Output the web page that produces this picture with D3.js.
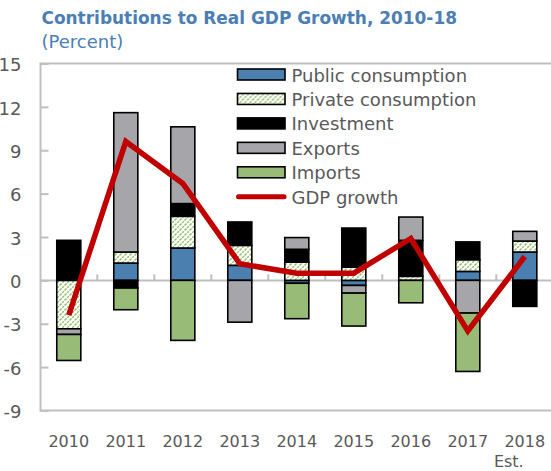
<!DOCTYPE html>
<html>
<head>
<meta charset="utf-8">
<script src="https://cdn.jsdelivr.net/npm/d3@7"></script>
<style>
  html, body { margin: 0; padding: 0; background: #fff; }
  svg { display: block; }
</style>
</head>
<body>
<svg id="chart" width="551" height="471"></svg>
<script>
// Contributions to real GDP growth (percentage points), 2010-18
const years = ["2010", "2011", "2012", "2013", "2014", "2015", "2016", "2017", "2018"];
const publicConsumption  = [0, 1.2, 2.24, 1.04, -0.2, -0.35, 0, 0.62, 1.96];
const privateConsumption = [-3.35, 0.76, 2.19, 1.38, 1.27, 0.92, 0.28, 0.81, 0.76];
const investment         = [2.77, -0.53, 0.88, 1.62, 0.88, 2.7, 2.49, 1.23, -1.8];
const exportsC           = [-0.39, 9.64, 5.31, -2.89, 0.81, -0.53, 1.61, -2.26, 0.67];
const importsC           = [-1.8, -1.5, -4.15, 0, -2.45, -2.28, -1.55, -4.04, 0];
const gdpGrowth          = [-2.4, 9.6, 6.7, 1.15, 0.5, 0.5, 2.9, -3.5, 1.65];
const yTicks = [-9, -6, -3, 0, 3, 6, 9, 12, 15];
const seriesNames = ["Public consumption", "Private consumption", "Investment", "Exports", "Imports"];
const lineName = "GDP growth";

const svg = d3.select("#chart");
const textGray = "#595959";
const axisGray = "#bfbfbf";

// hatch pattern for private consumption
const defs = svg.append("defs");
const pat = defs.append("pattern")
  .attr("id", "hatch")
  .attr("patternUnits", "userSpaceOnUse")
  .attr("width", 5).attr("height", 5);
pat.append("rect").attr("width", 5).attr("height", 5).attr("fill", "#fff");
pat.append("path")
  .attr("d", "M0,5 L5,0 M-1,1 L1,-1 M4,6 L6,4")
  .attr("stroke", "#8fbb66")
  .attr("stroke-width", 1.4)
  .attr("stroke-dasharray", "2.2,1");

const fills = {
  "Public consumption": "#4a7fb0",
  "Private consumption": "url(#hatch)",
  "Investment": "#000000",
  "Exports": "#a6a6aa",
  "Imports": "#98bb78"
};

const plotLeft = 40.5, plotRight = 551, plotTop = 63.5, plotBottom = 410.5;

const x = d3.scaleBand()
  .domain(years)
  .range([40.3, 553.3])
  .paddingInner(0.578)
  .paddingOuter(0.289);

const y = d3.scaleLinear().domain([-9, 15]).range([plotBottom, plotTop]);

// rows for stacking
const rows = years.map((yr, i) => ({
  year: yr,
  "Public consumption": publicConsumption[i],
  "Private consumption": privateConsumption[i],
  "Investment": investment[i],
  "Exports": exportsC[i],
  "Imports": importsC[i]
}));

const stacked = d3.stack()
  .keys(seriesNames)
  .offset(d3.stackOffsetDiverging)(rows);

// frame
const frame = svg.append("g").attr("stroke", axisGray).attr("stroke-width", 2);
frame.append("line").attr("x1", plotLeft).attr("x2", plotRight).attr("y1", plotTop).attr("y2", plotTop);
frame.append("line").attr("x1", plotLeft).attr("x2", plotRight).attr("y1", plotBottom).attr("y2", plotBottom);

// y axis (plain hyphen for negatives)
const yAxis = svg.append("g")
  .attr("transform", `translate(${plotLeft},0)`)
  .call(d3.axisLeft(y).tickValues(yTicks).tickSize(-8).tickPadding(19).tickFormat(d => String(d)));
yAxis.select(".domain").attr("stroke", axisGray).attr("stroke-width", 2)
  .attr("d", `M0,${plotTop - 1}V${plotBottom + 1}`);
yAxis.selectAll(".tick line").attr("stroke", axisGray).attr("stroke-width", 2);
yAxis.selectAll(".tick text")
  .attr("fill", textGray)
  .attr("font-family", "DejaVu Sans")
  .attr("font-size", 18)
  .attr("dy", "0.4em");

// zero line with boundary ticks
const zero = svg.append("g").attr("stroke", axisGray).attr("stroke-width", 2);
zero.append("line").attr("x1", plotLeft).attr("x2", plotRight).attr("y1", y(0)).attr("y2", y(0));
const gap = (x.step() - x.bandwidth()) / 2;
zero.selectAll("line.tk").data(years.slice(1)).join("line")
  .attr("class", "tk")
  .attr("x1", d => x(d) - gap).attr("x2", d => x(d) - gap)
  .attr("y1", y(0) - 6).attr("y2", y(0));

// bars
svg.append("g").selectAll("g")
  .data(stacked).join("g")
  .attr("fill", d => fills[d.key])
  .selectAll("rect")
  .data(d => d.filter(s => Math.abs(s[1] - s[0]) > 1e-9))
  .join("rect")
  .attr("x", d => x(d.data.year))
  .attr("width", x.bandwidth())
  .attr("y", d => y(Math.max(d[0], d[1])))
  .attr("height", d => Math.abs(y(d[0]) - y(d[1])))
  .attr("stroke", "#000")
  .attr("stroke-width", 1.6);

// GDP growth line
const line = d3.line()
  .x((d, i) => x(years[i]) + x.bandwidth() / 2)
  .y(d => y(d));
svg.append("path")
  .datum(gdpGrowth)
  .attr("d", line)
  .attr("fill", "none")
  .attr("stroke", "#c00000")
  .attr("stroke-width", 5.5)
  .attr("stroke-linejoin", "miter");

// x labels
svg.append("g").selectAll("text")
  .data(years).join("text")
  .attr("x", d => x(d) + x.bandwidth() / 2)
  .attr("y", 447)
  .attr("text-anchor", "middle")
  .attr("fill", textGray)
  .attr("font-family", "DejaVu Sans")
  .attr("font-size", 16)
  .text(d => d);
svg.append("text")
  .attr("x", x("2018") + x.bandwidth() / 2 - 16)
  .attr("y", 466.5)
  .attr("text-anchor", "middle")
  .attr("fill", textGray)
  .attr("font-family", "DejaVu Sans")
  .attr("font-size", 16)
  .text("Est.");

// legend
const legend = svg.append("g").attr("transform", "translate(237.5,0)");
const rowY = i => 74.5 + i * 24.45;
seriesNames.forEach((name, i) => {
  legend.append("rect")
    .attr("x", 0).attr("y", rowY(i) - 5.5)
    .attr("width", 47.5).attr("height", 11)
    .attr("fill", fills[name])
    .attr("stroke", "#000").attr("stroke-width", 1.6);
  legend.append("text")
    .attr("x", 54).attr("y", rowY(i) + 7)
    .attr("fill", textGray)
    .attr("font-family", "DejaVu Sans")
    .attr("font-size", 18)
    .text(name);
});
legend.append("line")
  .attr("x1", 1).attr("x2", 46.5)
  .attr("y1", rowY(5)).attr("y2", rowY(5))
  .attr("stroke", "#c00000").attr("stroke-width", 5).attr("stroke-linecap", "round");
legend.append("text")
  .attr("x", 54).attr("y", rowY(5) + 7)
  .attr("fill", textGray)
  .attr("font-family", "DejaVu Sans")
  .attr("font-size", 18)
  .text(lineName);

// titles; the main title is sized to span 416px
const title = svg.append("text")
  .attr("x", 41.5).attr("y", 24)
  .attr("fill", "#4a7eb4")
  .attr("font-family", "DejaVu Sans")
  .attr("font-weight", "bold")
  .attr("font-size", 18)
  .text("Contributions to Real GDP Growth, 2010-18");
const titleLen = title.node().getComputedTextLength();
if (titleLen > 0) title.attr("font-size", 18 * 416 / titleLen);
svg.append("text")
  .attr("x", 41.5).attr("y", 47.7)
  .attr("fill", "#4a7eb4")
  .attr("font-family", "DejaVu Sans")
  .attr("font-size", 18)
  .text("(Percent)");
</script>
</body>
</html>
